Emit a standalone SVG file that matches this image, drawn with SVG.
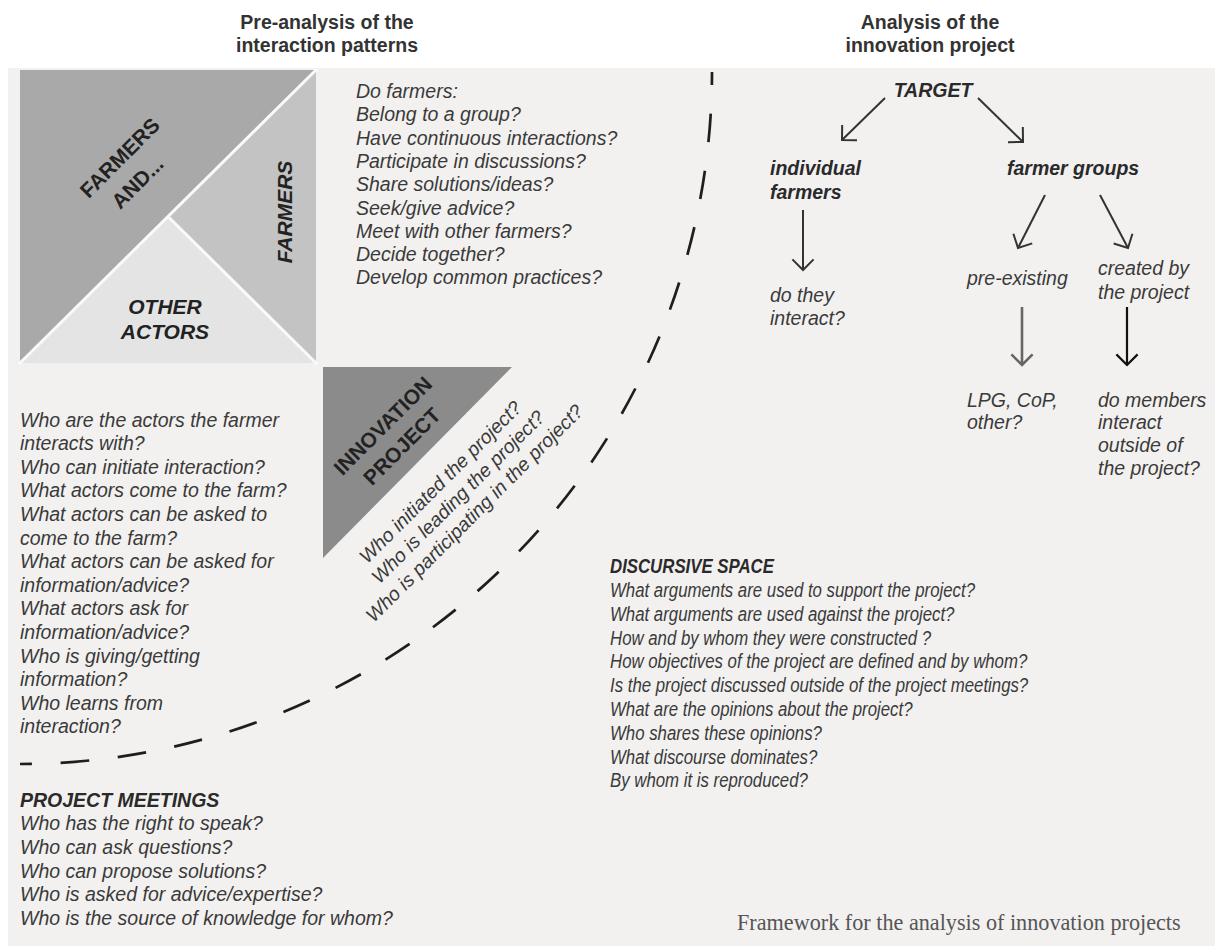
<svg xmlns="http://www.w3.org/2000/svg" width="1215" height="949" viewBox="0 0 1215 949">
<style>
.q{font-family:"Liberation Sans",Arial,sans-serif;font-style:italic;font-size:19.5px;fill:#3a3a3a}
.qb{font-family:"Liberation Sans",Arial,sans-serif;font-style:italic;font-weight:bold;font-size:19.5px;fill:#2a2a2a}
.hd{font-family:"Liberation Sans",Arial,sans-serif;font-weight:bold;font-size:19.5px;fill:#333}
.lab{font-family:"Liberation Sans",Arial,sans-serif;font-weight:bold;font-size:21px;fill:#222}
.labi{font-family:"Liberation Sans",Arial,sans-serif;font-weight:bold;font-style:italic;font-size:21px;fill:#222}
.arr{fill:none;stroke:#333;stroke-width:2}
.cap{font-family:"Liberation Serif","Times New Roman",serif;font-size:22.2px;fill:#555}
</style>
<defs>
<marker id="ah" markerUnits="userSpaceOnUse" viewBox="-13 -13 15 26" markerWidth="15" markerHeight="26" refX="0" refY="0" orient="auto">
<path d="M-10.6,-10.6 L0,0 L-10.6,10.6" fill="none" stroke="#333" stroke-width="2"/>
</marker>
<marker id="ahg" markerUnits="userSpaceOnUse" viewBox="-13 -13 15 26" markerWidth="15" markerHeight="26" refX="0" refY="0" orient="auto">
<path d="M-10.6,-10.6 L0,0 L-10.6,10.6" fill="none" stroke="#666" stroke-width="2.6"/>
</marker>
<marker id="ahk" markerUnits="userSpaceOnUse" viewBox="-13 -13 15 26" markerWidth="15" markerHeight="26" refX="0" refY="0" orient="auto">
<path d="M-10.6,-10.6 L0,0 L-10.6,10.6" fill="none" stroke="#111" stroke-width="2.2"/>
</marker>
</defs>
<rect x="0" y="0" width="1215" height="949" fill="#ffffff"/>
<rect x="8" y="68" width="1207" height="878" fill="#f2f1f0"/>

<g id="headers">
<text class="hd" x="327" y="29" text-anchor="middle">Pre-analysis of the</text>
<text class="hd" x="327" y="52" text-anchor="middle">interaction patterns</text>
<text class="hd" x="930" y="29" text-anchor="middle">Analysis of the</text>
<text class="hd" x="930" y="52" text-anchor="middle">innovation project</text>
</g>

<g id="farmers-and">
<polygon points="20,70 316,70 20,363" fill="#a9a9a9"/>
<g transform="translate(120,158) rotate(-45)">
<text class="lab" x="0" y="7" text-anchor="middle">FARMERS</text>
<text class="lab" x="-5" y="37" text-anchor="middle">AND...</text>
</g>
</g>
<g id="farmers">
<polygon points="168,216.5 316,70 316,363" fill="#c3c3c3"/>
<text class="labi" transform="translate(292,212) rotate(-90)" x="0" y="0" text-anchor="middle">FARMERS</text>
</g>
<g id="other-actors">
<polygon points="20,363 168,216.5 316,363" fill="#e4e4e4"/>
<text class="labi" x="165" y="314" text-anchor="middle">OTHER</text>
<text class="labi" x="165" y="339" text-anchor="middle">ACTORS</text>
</g>
<g id="square-gaps">
<line x1="19" y1="364" x2="317" y2="69" stroke="#fafafa" stroke-width="3"/>
<line x1="168" y1="216.5" x2="317" y2="364" stroke="#fafafa" stroke-width="3"/>
</g>

<g id="innovation-project">
<polygon points="323,367 512,367 323,558" fill="#8b8b8b"/>
<g transform="translate(383,426) rotate(-45)">
<text class="lab" x="0" y="7" font-size="20" text-anchor="middle">INNOVATION</text>
<text class="lab" x="-1" y="35" font-size="20" text-anchor="middle">PROJECT</text>
</g>
</g>

<g id="project-questions" transform="translate(438,484) rotate(-45)">
<text class="q" x="3" y="7" text-anchor="middle">Who initiated the project?</text>
<text class="q" x="5" y="30" text-anchor="middle">Who is leading the project?</text>
<text class="q" x="5" y="53" text-anchor="middle">Who is participating in the project?</text>
</g>

<g id="farmers-questions">
<text class="q" x="356" y="98"><tspan x="356">Do farmers:</tspan><tspan x="356" dy="23.3">Belong to a group?</tspan><tspan x="356" dy="23.3">Have continuous interactions?</tspan><tspan x="356" dy="23.3">Participate in discussions?</tspan><tspan x="356" dy="23.3">Share solutions/ideas?</tspan><tspan x="356" dy="23.3">Seek/give advice?</tspan><tspan x="356" dy="23.3">Meet with other farmers?</tspan><tspan x="356" dy="23.3">Decide together?</tspan><tspan x="356" dy="23.3">Develop common practices?</tspan></text>
</g>

<g id="actors-questions">
<text class="q" x="20" y="426.5"><tspan x="20">Who are the actors the farmer</tspan><tspan x="20" dy="23.6">interacts with?</tspan><tspan x="20" dy="23.6">Who can initiate interaction?</tspan><tspan x="20" dy="23.6">What actors come to the farm?</tspan><tspan x="20" dy="23.6">What actors can be asked to</tspan><tspan x="20" dy="23.6">come to the farm?</tspan><tspan x="20" dy="23.6">What actors can be asked for</tspan><tspan x="20" dy="23.6">information/advice?</tspan><tspan x="20" dy="23.6">What actors ask for</tspan><tspan x="20" dy="23.6">information/advice?</tspan><tspan x="20" dy="23.6">Who is giving/getting</tspan><tspan x="20" dy="23.6">information?</tspan><tspan x="20" dy="23.6">Who learns from</tspan><tspan x="20" dy="23.6">interaction?</tspan></text>
</g>

<g id="project-meetings">
<text class="qb" x="20" y="806.5">PROJECT MEETINGS</text>
<text class="q" x="20" y="830.3"><tspan x="20">Who has the right to speak?</tspan><tspan x="20" dy="23.6">Who can ask questions?</tspan><tspan x="20" dy="23.6">Who can propose solutions?</tspan><tspan x="20" dy="23.6">Who is asked for advice/expertise?</tspan><tspan x="20" dy="23.6">Who is the source of knowledge for whom?</tspan></text>
</g>

<g id="discursive-space" transform="translate(610,0) scale(0.862,1)">
<text class="qb" x="0" y="573">DISCURSIVE SPACE</text>
<text class="q" x="0" y="597"><tspan x="0">What arguments are used to support the project?</tspan><tspan x="0" dy="23.8">What arguments are used against the project?</tspan><tspan x="0" dy="23.8">How and by whom they were constructed ?</tspan><tspan x="0" dy="23.8">How objectives of the project are defined and by whom?</tspan><tspan x="0" dy="23.8">Is the project discussed outside of the project meetings?</tspan><tspan x="0" dy="23.8">What are the opinions about the project?</tspan><tspan x="0" dy="23.8">Who shares these opinions?</tspan><tspan x="0" dy="23.8">What discourse dominates?</tspan><tspan x="0" dy="23.8">By whom it is reproduced?</tspan></text>
</g>

<g id="target"><text class="qb" x="933" y="97" text-anchor="middle">TARGET</text></g>
<g id="individual-farmers"><text class="qb" x="770" y="175"><tspan x="770">individual</tspan><tspan x="770" dy="24">farmers</tspan></text></g>
<g id="farmer-groups"><text class="qb" x="1007" y="175">farmer groups</text></g>
<g id="do-they-interact"><text class="q" x="770" y="301.5"><tspan x="770">do they</tspan><tspan x="770" dy="23">interact?</tspan></text></g>
<g id="pre-existing"><text class="q" x="967" y="284.5">pre-existing</text></g>
<g id="created-by"><text class="q" x="1098" y="274.5"><tspan x="1098">created by</tspan><tspan x="1098" dy="24">the project</tspan></text></g>
<g id="lpg"><text class="q" x="967" y="406.5"><tspan x="967">LPG, CoP,</tspan><tspan x="967" dy="22.5">other?</tspan></text></g>
<g id="do-members"><text class="q" x="1098" y="406.5"><tspan x="1098">do members</tspan><tspan x="1098" dy="22.7">interact</tspan><tspan x="1098" dy="22.7">outside of</tspan><tspan x="1098" dy="22.7">the project?</tspan></text></g>

<g id="connectors">
<path d="M712,72 A692,692 0 0 1 20,764" fill="none" stroke="#1e1e1e" stroke-width="2.7" stroke-dasharray="28.7 28.7" stroke-dashoffset="15.7"/>
<line class="arr" x1="885" y1="98" x2="842" y2="140" marker-end="url(#ah)"/>
<line class="arr" x1="978" y1="98" x2="1023" y2="142" marker-end="url(#ah)"/>
<line class="arr" x1="803" y1="210" x2="803" y2="270" marker-end="url(#ah)"/>
<line class="arr" x1="1045" y1="195" x2="1018" y2="248" marker-end="url(#ah)"/>
<line class="arr" x1="1100" y1="195" x2="1128" y2="248" marker-end="url(#ah)"/>
<line x1="1022" y1="307" x2="1022" y2="365" stroke="#666" stroke-width="2.6" marker-end="url(#ahg)"/>
<line x1="1127" y1="307" x2="1127" y2="365" stroke="#111" stroke-width="2.2" marker-end="url(#ahk)"/>
</g>

<text class="cap" x="737" y="930">Framework for the analysis of innovation projects</text>
</svg>
